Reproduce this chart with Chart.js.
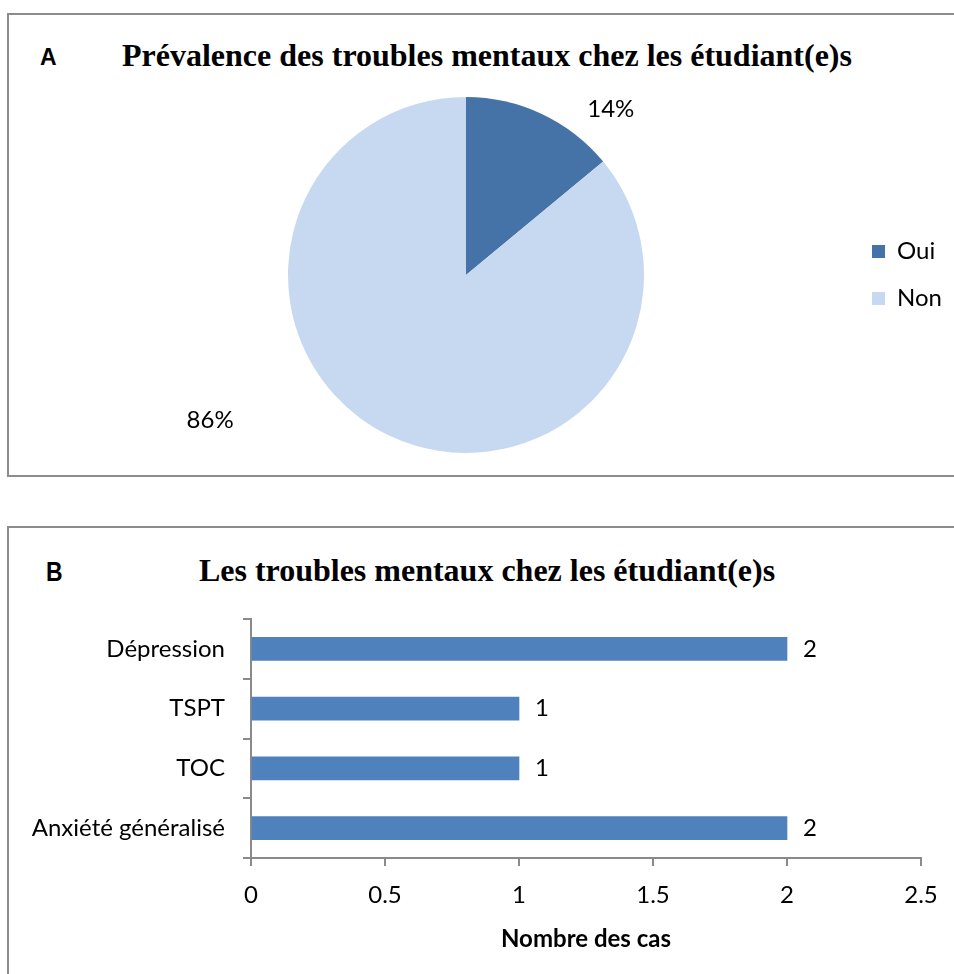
<!DOCTYPE html>
<html lang="fr">
<head>
<meta charset="utf-8">
<script src="https://cdn.jsdelivr.net/npm/chart.js@4"></script>
<style>
  html,body{margin:0;padding:0;background:#fff;overflow:hidden;width:954px;height:974px;}
  .panel{position:absolute;box-sizing:border-box;border:2px solid #8c8c8c;background:#fff;}
  canvas{position:absolute;}
  .tag{position:absolute;font-family:'Liberation Sans Narrow','Liberation Sans',sans-serif;font-weight:bold;color:#000;line-height:1;}
  .ttl{position:absolute;font-family:'Liberation Serif',serif;font-weight:bold;font-size:32px;color:#000;white-space:nowrap;transform:translate(-50%,-50%);}
</style>
</head>
<body>
<div class="panel" style="left:7px;top:13px;width:1000px;height:464px"></div>
<div class="panel" style="left:7px;top:526px;width:1000px;height:500px"></div>
<span class="tag" style="left:40px;top:46px;font-size:23px">A</span>
<span class="tag" style="left:46px;top:559px;font-size:27px;transform:scaleX(0.85);transform-origin:left">B</span>
<div class="ttl" style="left:487px;top:55px">Prévalence des troubles mentaux chez les étudiant(e)s</div>
<div class="ttl" style="left:487px;top:570px">Les troubles mentaux chez les étudiant(e)s</div>
<canvas id="pie" width="946" height="462" style="left:8px;top:14px"></canvas>
<canvas id="bars" width="946" height="447" style="left:8px;top:527px"></canvas>
<script>
const $ = s => document.querySelector(s);
const SANS = "Lato, 'Noto Sans', sans-serif";
const DARK = '#4572A7', LIGHT = '#C6D9F0', BAR = '#4F81BD', AXIS = '#8a8a8a';

// data
const pieLabels = ['Oui', 'Non'];
const pieValues = [14, 86];
const categories = ['Dépression', 'TSPT', 'TOC', 'Anxiété généralisé'];
const cases = [2, 1, 1, 2];
const xTicks = [0, 0.5, 1, 1.5, 2, 2.5];

/* ---- A: pie with outside percent labels ---- */
const labelAt = [0.815, 0.614], labelDist = [1.238, 1.652];
const pctLabels = {
  id: 'pctLabels',
  afterDatasetsDraw(chart) {
    const {ctx} = chart;
    const total = pieValues.reduce((s, v) => s + v, 0);
    chart.getDatasetMeta(0).data.forEach((a, i) => {
      const ang = a.startAngle + labelAt[i] * (a.endAngle - a.startAngle);
      const r = a.outerRadius * labelDist[i];
      ctx.save();
      ctx.font = '24px ' + SANS;
      ctx.fillStyle = '#000';
      ctx.textAlign = 'center';
      ctx.textBaseline = 'middle';
      ctx.fillText(Math.round(pieValues[i] / total * 100) + '%', a.x + r * Math.cos(ang), a.y + r * Math.sin(ang));
      ctx.restore();
    });
  }
};
// legend sits right of the pie: work out its width so the box lands where it should
const LFS = 24, LBOX = 13, LPAD = 23, LEG_X = 864;
const mctx = document.createElement('canvas').getContext('2d');
mctx.font = LFS + 'px ' + SANS;
const legW = LPAD + LBOX + LFS / 2 + Math.max(...pieLabels.map(t => mctx.measureText(t).width)) + 10;
new Chart($('#pie'), {
  type: 'pie',
  data: {labels: pieLabels, datasets: [{data: pieValues, backgroundColor: [DARK, LIGHT], borderWidth: 0}]},
  options: {
    responsive: false, animation: false,
    layout: {padding: {top: 83, bottom: 23, left: 75, right: 946 - (LEG_X - LPAD) - legW}},
    plugins: {
      legend: {position: 'right',
        labels: {boxWidth: LBOX, boxHeight: LBOX, padding: LPAD, color: '#000', font: {family: SANS, size: LFS}}},
      tooltip: {enabled: false}
    }
  },
  plugins: [pctLabels]
});

/* ---- B: horizontal bars ---- */
const barValues = {
  id: 'barValues',
  afterDatasetsDraw(chart) {
    const {ctx} = chart;
    chart.getDatasetMeta(0).data.forEach((b, i) => {
      ctx.save();
      ctx.font = '24px ' + SANS;
      ctx.fillStyle = '#000';
      ctx.textBaseline = 'middle';
      ctx.fillText(cases[i], b.x + 16, b.y);
      ctx.restore();
    });
  }
};
new Chart($('#bars'), {
  type: 'bar',
  data: {labels: categories, datasets: [{data: cases, backgroundColor: BAR, barThickness: 23}]},
  options: {
    indexAxis: 'y', responsive: false, animation: false,
    layout: {padding: {top: 92, bottom: 16, left: 0, right: 33}},
    plugins: {legend: {display: false}, tooltip: {enabled: false}},
    scales: {
      x: {
        min: xTicks[0], max: xTicks[xTicks.length - 1],
        afterBuildTicks: s => { s.ticks = xTicks.map(v => ({value: v})); },
        ticks: {padding: 15, color: '#000', font: {family: SANS, size: 24}, callback: v => String(v)},
        grid: {drawOnChartArea: false, tickLength: 8, color: AXIS, lineWidth: 2},
        border: {color: AXIS, width: 2},
        title: {display: true, text: 'Nombre des cas', color: '#000', font: {family: SANS, size: 24, weight: 'bold'}},
        afterFit: s => { s.height = 100; }
      },
      y: {
        ticks: {padding: 18, color: '#000', font: {family: SANS, size: 24}},
        grid: {drawOnChartArea: false, tickLength: 8, color: AXIS, lineWidth: 2, offset: true},
        border: {color: AXIS, width: 2},
        afterFit: s => { s.width = 243; }
      }
    }
  },
  plugins: [barValues]
});
</script>
</body>
</html>
